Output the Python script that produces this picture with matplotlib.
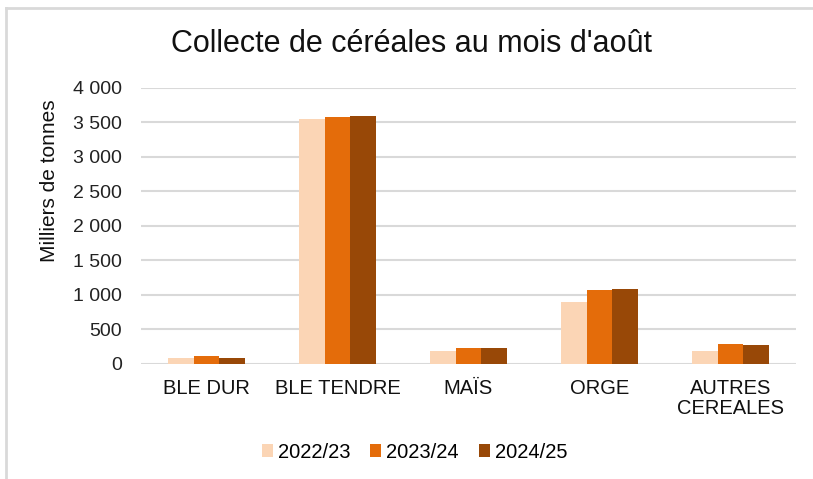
import numpy as np
import matplotlib.pyplot as plt
from matplotlib.lines import Line2D

plt.rcParams['font.family'] = ['Liberation Sans', 'DejaVu Sans']

# Données (milliers de tonnes)
categories = ["BLE DUR", "BLE TENDRE", "MAÏS", "ORGE", "AUTRES\nCEREALES"]
campagnes = ["2022/23", "2023/24", "2024/25"]
v_2022 = [90, 3550, 195, 905, 195]
v_2023 = [110, 3580, 235, 1070, 290]
v_2024 = [90, 3600, 235, 1085, 270]
couleurs = ["#FBD5B5", "#E46C0A", "#984807"]
yticks = [0, 500, 1000, 1500, 2000, 2500, 3000, 3500, 4000]

fig = plt.figure(figsize=(8.13, 4.79), dpi=100)
ax = fig.add_axes([0.1734, 0.2401, 0.8056, 0.5762])

x = np.arange(len(categories))
largeur = 0.197
series = [v_2022, v_2023, v_2024]
for i, (serie, nom, c) in enumerate(zip(series, campagnes, couleurs)):
    ax.bar(x + (i - 1) * largeur, serie, width=largeur, color=c, label=nom, zorder=3)

ax.set_xlim(-0.5, len(categories) - 0.5)
ax.set_ylim(0, 4000)
ax.set_yticks(yticks)
ax.set_yticklabels([f"{v:,}".replace(",", " ") for v in yticks], fontsize=14, color="#222222")
ax.set_xticks(x)
ax.set_xticklabels(categories, fontsize=14.5, color="#111111", linespacing=1.05)
ax.tick_params(axis="both", length=0)
ax.tick_params(axis="y", pad=13.5)
ax.tick_params(axis="x", pad=11)
ax.grid(axis="y", color="#D9D9D9", linewidth=1.5, zorder=0)
for s in ax.spines.values():
    s.set_visible(False)

fig.text(0.0615, 0.622, "Milliers de tonnes", rotation=90, fontsize=15,
         ha="center", va="center", color="#111111")
fig.text(0.506, 0.908, "Collecte de céréales au mois d'août", fontsize=22,
         ha="center", va="center", color="#111111")

leg = fig.legend(loc="center", bbox_to_anchor=(0.51, 0.056), ncol=3, frameon=False,
                 fontsize=14.5, handlelength=0.55, handleheight=0.55,
                 handletextpad=0.25, columnspacing=1.0)

# cadre gris (haut et gauche)
fig.add_artist(Line2D([0.0068, 1.0], [0.9823, 0.9823], color="#D9D9D9", linewidth=2))
fig.add_artist(Line2D([0.0068, 0.0068], [0.0, 0.9823], color="#D9D9D9", linewidth=2))

fig.savefig("out.png", dpi=100)
